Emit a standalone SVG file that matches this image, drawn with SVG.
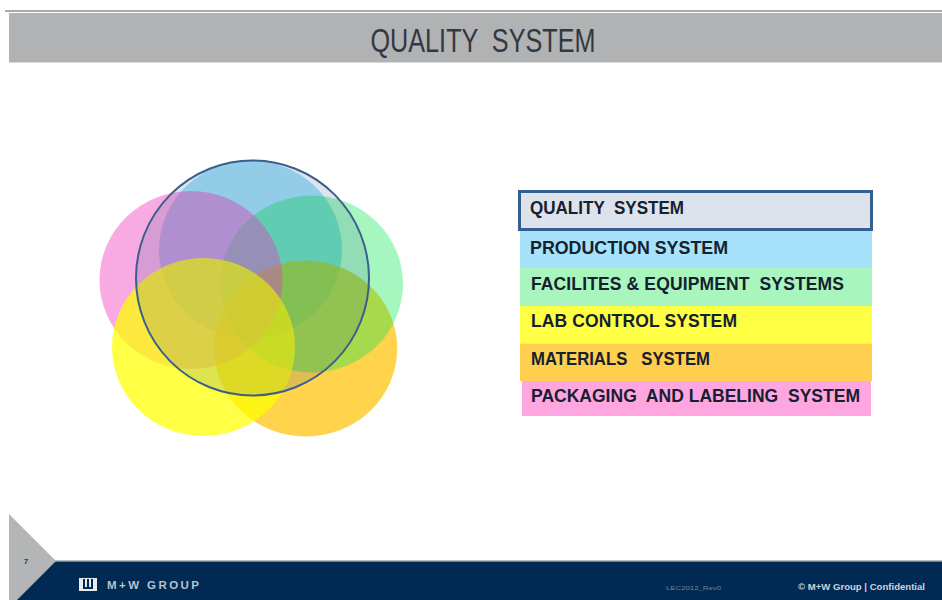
<svg xmlns="http://www.w3.org/2000/svg" width="942" height="600" viewBox="0 0 942 600">
<style>
text{font-family:"Liberation Sans",Arial,sans-serif}
.l{font-size:17.500px;font-weight:700;fill:#16202e;white-space:pre}
</style>
<rect width="942" height="600" fill="#fff"/>
<g id="header">
<rect x="5" y="10" width="937" height="2" fill="#a8a9ab"/>
<rect x="9" y="13" width="933" height="49.500" fill="#b1b2b4"/>
<text x="483" y="52" font-size="33" text-anchor="middle" fill="#33383f" textLength="225" lengthAdjust="spacingAndGlyphs" style="white-space:pre">QUALITY  SYSTEM</text>
</g>
<g id="venn">
<ellipse id="c-blue" cx="250.500" cy="249.500" rx="91.500" ry="89" fill="#00b0f0" fill-opacity=".35"/>
<ellipse id="c-orange" cx="305.700" cy="348.500" rx="91.500" ry="88" fill="#ffc000" fill-opacity=".7"/>
<ellipse id="c-green" cx="311.500" cy="284" rx="91.500" ry="88.500" fill="#00e64b" fill-opacity=".35"/>
<ellipse id="c-pink" cx="191" cy="280" rx="91.500" ry="89" fill="#f050c4" fill-opacity=".48"/>
<ellipse id="c-yellow" cx="203.500" cy="347" rx="91.500" ry="89" fill="#ffff00" fill-opacity=".73"/>
<ellipse id="c-quality" cx="252.500" cy="278" rx="116.500" ry="117.500" fill="#1f497d" fill-opacity=".15" stroke="#3a5f8c" stroke-width="2"/>
</g>
<g id="legend">
<g id="l-production"><rect x="520" y="229" width="352" height="39" fill="#a6e3fb"/><text class="l" x="530" y="254" textLength="198" lengthAdjust="spacingAndGlyphs">PRODUCTION SYSTEM</text></g>
<g id="l-facilities"><rect x="520" y="268" width="352" height="38" fill="#a8f5bd"/><text class="l" x="531" y="290" textLength="313" lengthAdjust="spacing">FACILITES &amp; EQUIPMENT  SYSTEMS</text></g>
<g id="l-lab"><rect x="520" y="306" width="352" height="37.500" fill="#ffff44"/><text class="l" x="531" y="327" textLength="206" lengthAdjust="spacing">LAB CONTROL SYSTEM</text></g>
<g id="l-materials"><rect x="520" y="343.500" width="352" height="37.500" fill="#ffcf4f"/><text class="l" x="531" y="365" textLength="179" lengthAdjust="spacingAndGlyphs">MATERIALS   SYSTEM</text></g>
<g id="l-packaging"><rect x="522" y="381" width="349" height="35" fill="#ffa6e1"/><text class="l" x="531" y="402" textLength="329" lengthAdjust="spacingAndGlyphs">PACKAGING  AND LABELING  SYSTEM</text></g>
<g id="l-quality"><rect x="519.500" y="191.500" width="352" height="38" fill="#dce3ec" stroke="#365f91" stroke-width="3"/><text class="l" x="530" y="214" textLength="154" lengthAdjust="spacingAndGlyphs">QUALITY  SYSTEM</text></g>
</g>
<g id="footer">
<rect x="9" y="560" width="933" height="1.500" fill="#b9babc"/>
<rect x="9" y="561.500" width="933" height="38.500" fill="#002a54"/>
<polygon points="9,514 56,561 17,600 9,600" fill="#b4b5b7"/>
<text x="26" y="564" font-size="8" font-weight="700" text-anchor="middle" fill="#24405f">7</text>
<g id="logo" fill="none" stroke="#e6e9ee">
<path d="M79 578H97V591H79Z" fill="#e6e9ee" stroke="none"/>
<path d="M84 579V588H92V579M88 579V588" stroke="#002a54" stroke-width="2"/>
</g>
<text x="107" y="589" font-size="11.500" font-weight="700" fill="#b9c2ce" textLength="92" lengthAdjust="spacing">M+W GROUP</text>
<text x="666" y="590" font-size="6" fill="#6f8299" textLength="55" lengthAdjust="spacingAndGlyphs">LEC2012_Rev0</text>
<text x="798" y="590" font-size="8.500" font-weight="700" fill="#ccd3dc" textLength="127" lengthAdjust="spacingAndGlyphs">© M+W Group | Confidential</text>
</g>
</svg>
